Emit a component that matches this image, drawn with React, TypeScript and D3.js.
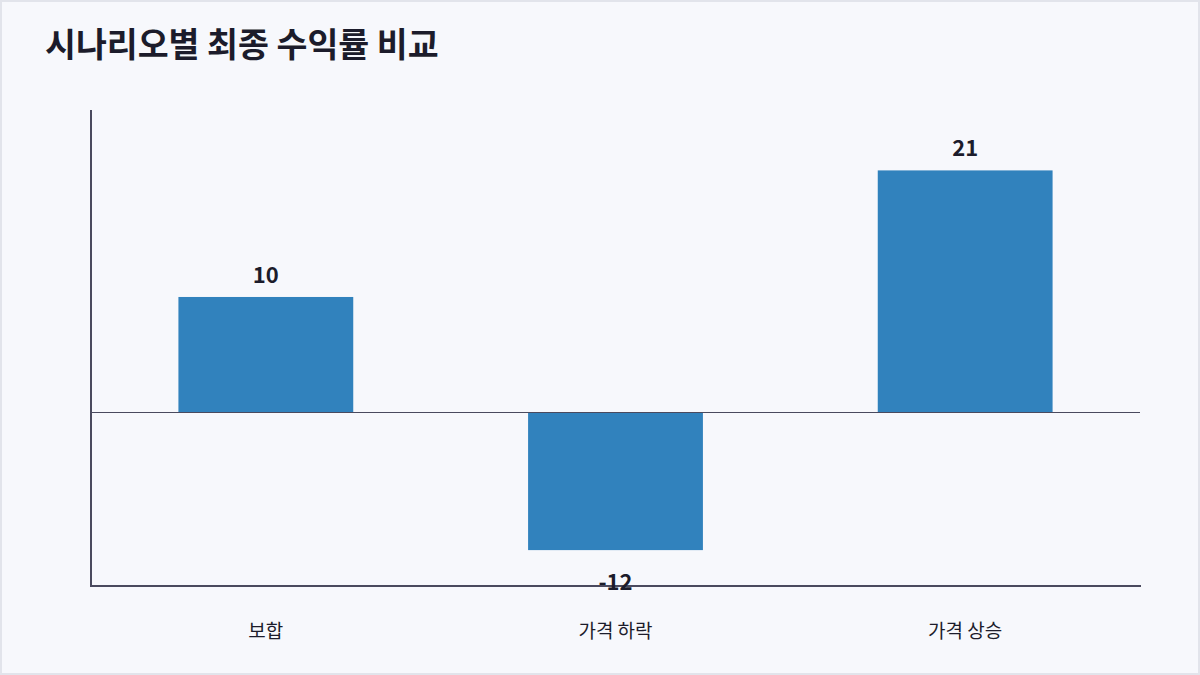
import React, { useEffect, useRef } from "react";
import * as d3 from "d3";

const categories: string[] = ["보합", "가격 하락", "가격 상승"];
const values: number[] = [10, -12, 21];
const title = "시나리오별 최종 수익률 비교";

const W = 1200;
const H = 675;
const FONT = "'Noto Sans CJK KR', 'Noto Sans', sans-serif";

export default function App() {
  const ref = useRef<SVGSVGElement | null>(null);

  useEffect(() => {
    document.body.style.margin = "0";
    const svg = d3.select(ref.current);
    svg.selectAll("*").remove();

    const left = 91, right = 1140, top = 110, bottom = 586;

    svg.append("rect").attr("x", 1).attr("y", 1).attr("width", W - 2).attr("height", H - 2)
      .attr("fill", "#f7f8fc").attr("stroke", "#e2e4eb").attr("stroke-width", 2);

    svg.append("text").attr("x", 45).attr("y", 57).text(title)
      .attr("font-family", FONT).attr("font-size", 33.6).attr("font-weight", 700).attr("fill", "#1c1c2b");

    const x = d3.scaleBand<string>().domain(categories).range([left, right])
      .paddingInner(0.5).paddingOuter(0.25);
    const y = d3.scaleLinear().domain([-15.12, 26.25]).range([bottom, top]);

    const g = svg.append("g");

    g.selectAll("rect.bar").data(values).enter().append("rect")
      .attr("class", "bar")
      .attr("x", (_, i) => x(categories[i])!)
      .attr("width", x.bandwidth())
      .attr("y", (d) => y(Math.max(0, d)))
      .attr("height", (d) => Math.abs(y(d) - y(0)))
      .attr("fill", "#3182bd");

    // zero line
    const zy = Math.round(y(0)) + 0.5;
    g.append("line").attr("x1", left).attr("x2", right).attr("y1", zy).attr("y2", zy)
      .attr("stroke", "#4a4a5e").attr("stroke-width", 1);

    // axes
    g.append("line").attr("x1", left).attr("x2", left).attr("y1", top).attr("y2", bottom + 1)
      .attr("stroke", "#4a4a5e").attr("stroke-width", 2);
    g.append("line").attr("x1", left).attr("x2", right + 1).attr("y1", bottom).attr("y2", bottom)
      .attr("stroke", "#4a4a5e").attr("stroke-width", 2);

    // value labels
    g.selectAll("text.val").data(values).enter().append("text")
      .attr("class", "val")
      .attr("x", (_, i) => x(categories[i])! + x.bandwidth() / 2)
      .attr("y", (d) => (d >= 0 ? y(d) - 14 : y(d) + 40))
      .attr("text-anchor", "middle")
      .attr("font-family", FONT).attr("font-size", 22).attr("font-weight", 700)
      .attr("fill", "#1c1c2b")
      .text((d) => String(d));

    // category labels
    g.selectAll("text.cat").data(categories).enter().append("text")
      .attr("class", "cat")
      .attr("x", (d) => x(d)! + x.bandwidth() / 2)
      .attr("y", 638)
      .attr("text-anchor", "middle")
      .attr("font-family", FONT).attr("font-size", 19).attr("font-weight", 400)
      .attr("fill", "#1c1c2b")
      .text((d) => d);
  }, []);

  return (
    <svg ref={ref} width={W} height={H} style={{ display: "block", position: "absolute", left: 0, top: 0 }} />
  );
}
